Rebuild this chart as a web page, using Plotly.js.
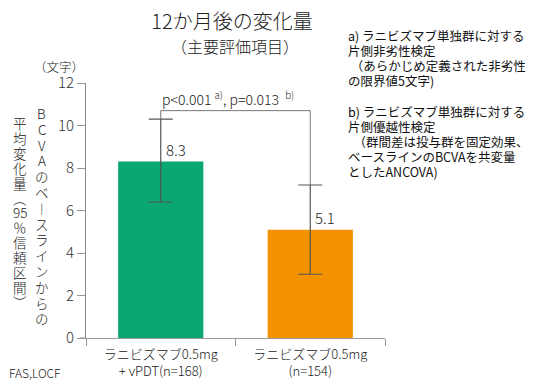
<!DOCTYPE html>
<html>
<head>
<meta charset="utf-8">
<script src="https://cdn.plot.ly/plotly-3.0.1.min.js"></script>
<style>html,body{margin:0;padding:0;background:#fff;}#chart{width:548px;height:390px;}</style>
</head>
<body>
<div id="chart"></div>
<script>
// ---- data ----
const categories = ["ラニビズマブ0.5mg<br>+ vPDT(n=168)", "ラニビズマブ0.5mg<br>(n=154)"];
const meanChange = [8.3, 5.1];
const ciLow = [6.4, 3.0];
const ciHigh = [10.3, 7.2];
const barColors = ["#0aa673", "#f39200"];
const yTickVals = [0, 2, 4, 6, 8, 10, 12];
const pText = "p<0.001 <sup>a)</sup>, p=0.013  <sup>b)</sup>";
const yTitleCol1 = ["B","C","V","A","の","ベ","︱","ス","ラ","イ","ン","か","ら","の"];
const yTitleCol2 = ["平","均","変","化","量","︵","95","％","信","頼","区","間","︶"];
const noteLines = [
  "a) ラニビズマブ単独群に対する",
  "片側非劣性検定",
  " （あらかじめ定義された非劣性",
  "の限界値5文字)",
  "",
  "b) ラニビズマブ単独群に対する",
  "片側優越性検定",
  "  （群間差は投与群を固定効果、",
  "ベースラインのBCVAを共変量",
  "としたANCOVA)"
];

// ---- layout helpers (pixel -> paper) ----
const L = 86, R = 163, T = 83, B = 52, W = 548, H = 390;
const pw = W - L - R, ph = H - T - B;
const px = x => (x - L) / pw;
const py = y => (H - B - y) / ph;
const JP = "Noto Sans CJK JP, Noto Sans, sans-serif";
const LIGHT = 300;

const errPlus = meanChange.map((v, i) => ciHigh[i] - v);
const errMinus = meanChange.map((v, i) => v - ciLow[i]);

const trace = {
  type: "bar",
  x: categories,
  y: meanChange,
  width: 0.57,
  marker: { color: barColors },
  error_y: {
    type: "data", symmetric: false,
    array: errPlus, arrayminus: errMinus,
    color: "#555", thickness: 1.2, width: 12
  },
  hoverinfo: "none"
};

const annotations = [];
// value labels
meanChange.forEach((v, i) => {
  annotations.push({
    x: categories[i], y: v, xref: "x", yref: "y",
    text: v.toFixed(1), showarrow: false,
    xanchor: "left", yanchor: "bottom", xshift: 3, yshift: 0,
    font: { family: JP, size: 15, color: "#222", weight: LIGHT }
  });
});
// p-value text
annotations.push({
  x: px(160), y: py(98), xref: "paper", yref: "paper",
  text: pText, showarrow: false, xanchor: "left", yanchor: "middle",
  font: { family: JP, size: 14, color: "#222", weight: LIGHT }
});
// subtitle
annotations.push({
  x: px(235), y: py(46), xref: "paper", yref: "paper",
  text: "（主要評価項目）", showarrow: false, xanchor: "center", yanchor: "middle",
  font: { family: JP, size: 16, color: "#222", weight: LIGHT }
});
// unit
annotations.push({
  x: px(59), y: py(66), xref: "paper", yref: "paper",
  text: "（文字）", showarrow: false, xanchor: "center", yanchor: "middle",
  font: { family: JP, size: 12.5, color: "#222", weight: LIGHT }
});
// FAS,LOCF
annotations.push({
  x: px(7), y: py(372), xref: "paper", yref: "paper",
  text: "FAS,LOCF", showarrow: false, xanchor: "left", yanchor: "middle",
  font: { family: JP, size: 12, color: "#222", weight: LIGHT }
});
// vertical y title columns
yTitleCol1.forEach((c, i) => {
  annotations.push({
    x: px(42), y: py(113 + i * 15.8), xref: "paper", yref: "paper",
    text: c, showarrow: false, xanchor: "center", yanchor: "middle",
    font: { family: JP, size: 13.5, color: "#222", weight: LIGHT }
  });
});
yTitleCol2.forEach((c, i) => {
  annotations.push({
    x: px(20), y: py(123 + i * 14.9), xref: "paper", yref: "paper",
    text: c, showarrow: false, xanchor: "center", yanchor: "middle",
    font: { family: JP, size: 13.5, color: "#222", weight: LIGHT }
  });
});
// notes
noteLines.forEach((t, i) => {
  if (!t) return;
  annotations.push({
    x: px(346), y: py(35 + i * 15.2), xref: "paper", yref: "paper",
    text: t, showarrow: false, xanchor: "left", yanchor: "middle",
    font: { family: JP, size: 12.5, color: "#111" }
  });
});

// bracket
const bracketY = 10.7;
const shapes = [
  { type: "line", xref: "x", yref: "y", x0: 0, x1: 1, y0: bracketY, y1: bracketY, line: { color: "#777", width: 1 } },
  { type: "line", xref: "x", yref: "y", x0: 0, x1: 0, y0: bracketY, y1: ciHigh[0], line: { color: "#777", width: 1 } },
  { type: "line", xref: "x", yref: "y", x0: 1, x1: 1, y0: bracketY, y1: ciHigh[1], line: { color: "#777", width: 1 } },
  // short extension of the baseline to the left of the y axis
  { type: "line", xref: "paper", yref: "y", x0: px(80), x1: 0, y0: 0, y1: 0, line: { color: "#999", width: 1 } }
];

const layout = {
  width: W, height: H,
  margin: { l: L, r: R, t: T, b: B, pad: 0 },
  paper_bgcolor: "#fff", plot_bgcolor: "#fff",
  showlegend: false,
  title: {
    text: "12か月後の変化量",
    x: px(232), xref: "paper", xanchor: "center",
    y: 1 - 22 / H, yref: "container", yanchor: "middle",
    font: { family: JP, size: 20, color: "#222", weight: LIGHT }
  },
  xaxis: {
    type: "category", range: [-0.5, 1.5],
    showline: true, linecolor: "#999", linewidth: 1,
    ticks: "outside", tickson: "boundaries", ticklen: 7, tickcolor: "#999",
    ticklabelstandoff: 4,
    showgrid: false, zeroline: false,
    tickfont: { family: JP, size: 13, color: "#222", weight: LIGHT }
  },
  yaxis: {
    range: [0, 12], tickvals: yTickVals,
    showline: true, linecolor: "#888", linewidth: 1,
    ticks: "outside", ticklen: 8, tickcolor: "#999",
    showgrid: false, zeroline: false,
    tickfont: { family: JP, size: 15, color: "#333", weight: LIGHT }
  },
  annotations: annotations,
  shapes: shapes
};

Plotly.newPlot("chart", [trace], layout, { staticPlot: true, displayModeBar: false });
</script>
</body>
</html>
